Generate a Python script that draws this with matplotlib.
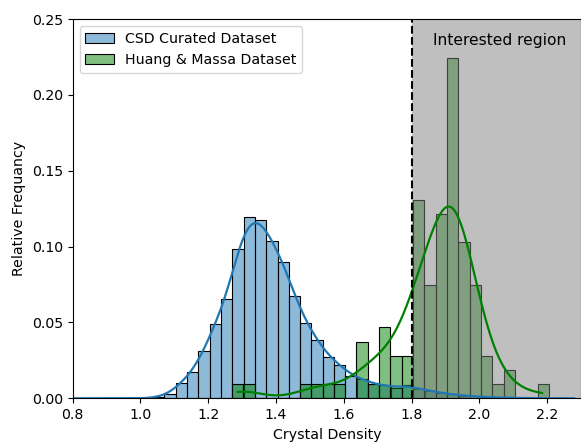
import matplotlib
matplotlib.use("Agg")
import matplotlib.pyplot as plt
from matplotlib.patches import Patch
import numpy as np

# histogram bins
bin_width = 0.0334
csd_bin_start = 1.037
hm_bin_start = 1.270

# CSD Curated Dataset, relative frequency per bin
csd_freq = [0.0009, 0.0031, 0.0104, 0.0174, 0.0309, 0.0493, 0.0653, 0.0985,
            0.1196, 0.1174, 0.1038, 0.0896, 0.0673, 0.0497, 0.0383, 0.0273,
            0.0220, 0.0150, 0.0125, 0.0093, 0.0086, 0.0068, 0.0088,
            0.0060, 0.0050, 0.0035, 0.0025, 0.0018, 0.0012, 0.0008, 0.0005,
            0.0003, 0.0002, 0.0001]

# Huang & Massa Dataset, counts per bin (107 structures)
hm_counts = [1, 1, 0, 0, 0, 0, 1, 1, 1, 1, 0, 4, 1, 5, 3, 3,
             14, 8, 13, 24, 11, 8, 3, 1, 2, 0, 0, 1]
hm_min, hm_max = 1.287, 2.185

cut_off = 1.8
labels = ["CSD Curated Dataset", "Huang & Massa Dataset"]


def kde_curve(centers, weights, bw, grid, width):
    w = np.asarray(weights, float)
    w = w / w.sum()
    d = (grid[:, None] - centers[None, :]) / bw
    dens = (w[None, :] * np.exp(-0.5 * d ** 2)).sum(axis=1) / (bw * np.sqrt(2 * np.pi))
    return dens * width


plt.rcParams['font.size'] = 10.2

fig = plt.figure(figsize=(5.81, 4.42), dpi=100)
ax = fig.add_axes([0.1251, 0.0989, 0.8749, 0.858])

csd_left = csd_bin_start + bin_width * np.arange(len(csd_freq))
hm_freq = np.array(hm_counts) / np.sum(hm_counts)
hm_left = hm_bin_start + bin_width * np.arange(len(hm_counts))

blue = '#1f77b4'
green = 'green'

ax.bar(csd_left, csd_freq, width=bin_width, align='edge',
       facecolor=matplotlib.colors.to_rgba(blue, 0.5), edgecolor='black', linewidth=0.8)
csd_c = csd_left + bin_width / 2
grid = np.linspace(0.8, 2.28, 400)
ax.plot(grid, kde_curve(csd_c, csd_freq, 0.028, grid, bin_width), color=blue, lw=1.6)

ax.bar(hm_left, hm_freq, width=bin_width, align='edge',
       facecolor=matplotlib.colors.to_rgba(green, 0.5), edgecolor='black', linewidth=0.8)
hm_c = hm_left + bin_width / 2
mean = np.sum(hm_c * hm_freq)
sd = np.sqrt(np.sum(hm_freq * (hm_c - mean) ** 2))
bw = sd * np.sum(hm_counts) ** (-0.2)
grid2 = np.linspace(hm_min, hm_max, 300)
ax.plot(grid2, kde_curve(hm_c, hm_counts, bw, grid2, bin_width), color=green, lw=1.6)

ax.axvspan(cut_off, 2.3, color='gray', alpha=0.5, lw=0)
ax.axvline(cut_off, color='black', ls='--', lw=1.5)
ax.text(2.06, 0.236, "Interested region", ha='center', va='center', fontsize=11.2)

ax.set_xlim(0.8, 2.3)
ax.set_ylim(0, 0.25)
ax.set_xticks([0.8, 1.0, 1.2, 1.4, 1.6, 1.8, 2.0, 2.2])
ax.set_yticks([0.0, 0.05, 0.10, 0.15, 0.20, 0.25])
ax.set_xlabel("Crystal Density")
ax.set_ylabel("Relative Frequancy")

handles = [Patch(facecolor=matplotlib.colors.to_rgba(blue, 0.5), edgecolor='black', linewidth=0.8),
           Patch(facecolor=matplotlib.colors.to_rgba(green, 0.5), edgecolor='black', linewidth=0.8)]
ax.legend(handles, labels, loc='upper left')

fig.savefig("out.png", dpi=100)
